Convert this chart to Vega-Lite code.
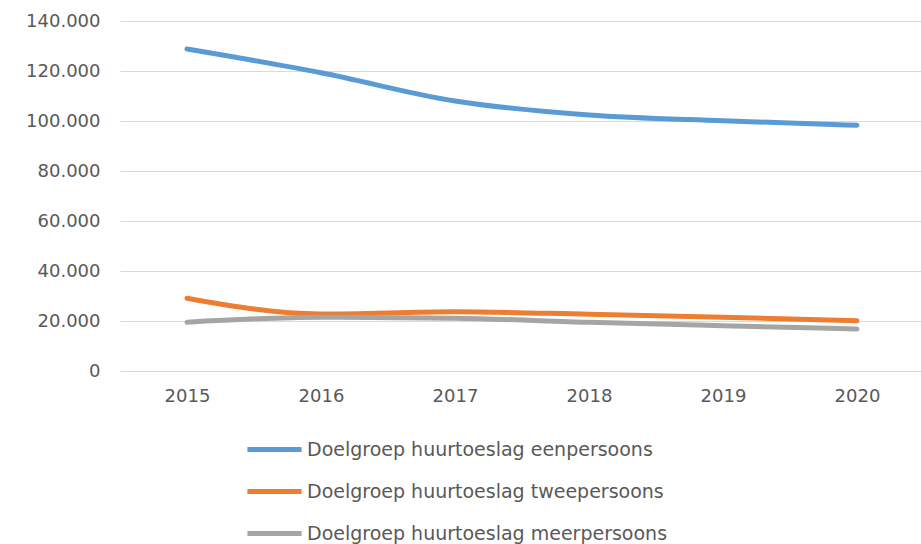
{
  "$schema": "https://vega.github.io/schema/vega-lite/v6.json",
  "width": 804,
  "height": 350,
  "autosize": {"type": "none"},
  "padding": {"left": 120, "top": 21, "right": 0, "bottom": 173},
  "background": "white",
  "config": {
    "view": {"stroke": null},
    "font": "DejaVu Sans",
    "locale": {"number": {"decimal": ",", "thousands": ".", "grouping": [3], "currency": ["€", ""]}}
  },
  "data": {
    "values": [
      {"jaar": "2015", "groep": "Doelgroep huurtoeslag eenpersoons", "aantal": 128800},
      {"jaar": "2016", "groep": "Doelgroep huurtoeslag eenpersoons", "aantal": 119300},
      {"jaar": "2017", "groep": "Doelgroep huurtoeslag eenpersoons", "aantal": 108000},
      {"jaar": "2018", "groep": "Doelgroep huurtoeslag eenpersoons", "aantal": 102400},
      {"jaar": "2019", "groep": "Doelgroep huurtoeslag eenpersoons", "aantal": 100100},
      {"jaar": "2020", "groep": "Doelgroep huurtoeslag eenpersoons", "aantal": 98300},
      {"jaar": "2015", "groep": "Doelgroep huurtoeslag tweepersoons", "aantal": 29100},
      {"jaar": "2016", "groep": "Doelgroep huurtoeslag tweepersoons", "aantal": 22800},
      {"jaar": "2017", "groep": "Doelgroep huurtoeslag tweepersoons", "aantal": 23700},
      {"jaar": "2018", "groep": "Doelgroep huurtoeslag tweepersoons", "aantal": 22700},
      {"jaar": "2019", "groep": "Doelgroep huurtoeslag tweepersoons", "aantal": 21500},
      {"jaar": "2020", "groep": "Doelgroep huurtoeslag tweepersoons", "aantal": 20100},
      {"jaar": "2015", "groep": "Doelgroep huurtoeslag meerpersoons", "aantal": 19500},
      {"jaar": "2016", "groep": "Doelgroep huurtoeslag meerpersoons", "aantal": 21500},
      {"jaar": "2017", "groep": "Doelgroep huurtoeslag meerpersoons", "aantal": 21100},
      {"jaar": "2018", "groep": "Doelgroep huurtoeslag meerpersoons", "aantal": 19500},
      {"jaar": "2019", "groep": "Doelgroep huurtoeslag meerpersoons", "aantal": 18100},
      {"jaar": "2020", "groep": "Doelgroep huurtoeslag meerpersoons", "aantal": 16800}
    ]
  },
  "mark": {"type": "line", "strokeWidth": 5, "strokeCap": "round", "interpolate": "monotone"},
  "encoding": {
    "x": {
      "field": "jaar",
      "type": "ordinal",
      "title": null,
      "axis": {
        "labelAngle": 0,
        "labelFontSize": 18,
        "labelColor": "#595959",
        "labelPadding": 16,
        "domain": false,
        "ticks": false,
        "grid": false
      }
    },
    "y": {
      "field": "aantal",
      "type": "quantitative",
      "title": null,
      "scale": {"domain": [0, 140000], "nice": false},
      "axis": {
        "values": [0, 20000, 40000, 60000, 80000, 100000, 120000, 140000],
        "format": ",d",
        "labelFontSize": 18,
        "labelColor": "#595959",
        "labelPadding": 20,
        "domain": false,
        "ticks": false,
        "gridColor": "#d9d9d9",
        "gridWidth": 1
      }
    },
    "color": {
      "field": "groep",
      "type": "nominal",
      "title": null,
      "scale": {
        "domain": ["Doelgroep huurtoeslag eenpersoons", "Doelgroep huurtoeslag tweepersoons", "Doelgroep huurtoeslag meerpersoons"],
        "range": ["#5b9bd5", "#ed7d31", "#a5a5a5"]
      },
      "legend": {
        "orient": "none",
        "legendX": 131,
        "legendY": 405,
        "direction": "vertical",
        "padding": 0,
        "symbolType": "M-1.29,0H1.29",
        "symbolSize": 1764,
        "symbolStrokeWidth": 5,
        "labelOffset": 9,
        "labelFontSize": 19,
        "labelColor": "#595959",
        "labelLimit": 600,
        "rowPadding": 8
      }
    }
  }
}
